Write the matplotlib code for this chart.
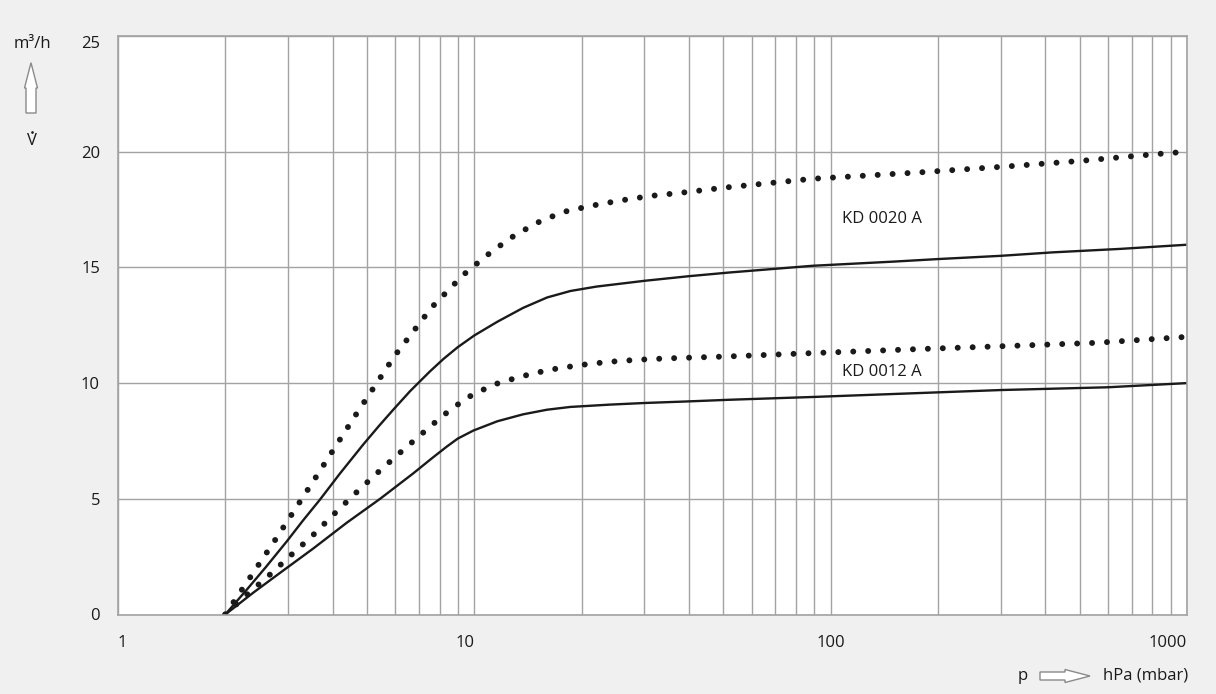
import matplotlib
matplotlib.use("Agg")
import matplotlib.pyplot as plt
from matplotlib.patches import Polygon
from matplotlib.lines import Line2D
from matplotlib.ticker import LogLocator, NullFormatter, FixedLocator

plt.rcParams['font.family'] = ['Open Sans', 'DejaVu Sans']

# ---- data ----
kd20_max_x = [2, 2.22, 2.75, 3.57, 4.59, 5.99, 7.6, 9.3, 10.8, 12.6, 14.9, 17.7, 21.4, 25.9,
              31.3, 37.8, 50.5, 89, 175, 310, 500, 810, 1000]
kd20_max_y = [0, 1.04, 3.18, 5.87, 8.5, 11.2, 13.28, 14.67, 15.5, 16.26, 16.91, 17.39, 17.67, 17.9,
              18.09, 18.22, 18.45, 18.83, 19.1, 19.36, 19.6, 19.89, 20.0]

kd20_x = [2, 2.3, 2.6, 2.98, 3.3, 3.69, 4.2, 4.88, 5.4, 5.93, 6.6, 7.5, 8.2, 8.98, 10, 11.6,
          13.7, 16, 18.6, 22, 30, 40, 52, 89, 150, 200, 300, 420, 650, 1000]
kd20_y = [0, 1.08, 2.05, 3.17, 4.05, 4.97, 6.1, 7.35, 8.15, 8.86, 9.65, 10.5, 11.05, 11.55, 12.06,
          12.65, 13.25, 13.7, 13.98, 14.17, 14.42, 14.62, 14.78, 15.07, 15.25, 15.36, 15.5, 15.65,
          15.8, 15.98]

kd12_max_x = [2, 2.3, 2.65, 3.04, 3.51, 4.02, 4.61, 5.3, 6.1, 7.05, 8.17, 9.52, 11.3, 13.55, 16.3,
              19.8, 23.9, 28.8, 34.9, 42.2, 51.1, 90, 176, 285, 555, 1000]
kd12_max_y = [0, 0.86, 1.68, 2.53, 3.4, 4.31, 5.2, 6.07, 6.91, 7.75, 8.6, 9.36, 9.93, 10.29, 10.58,
              10.78, 10.92, 11.01, 11.07, 11.11, 11.15, 11.3, 11.47, 11.58, 11.74, 12.0]

kd12_x = [2, 2.4, 2.85, 3.53, 4.38, 5.44, 6.74, 7.6, 8.36, 8.98, 9.94, 11.6, 13.7, 16, 18.6, 24,
          30, 40, 52, 89, 200, 300, 600, 1000]
kd12_y = [0, 0.95, 1.8, 2.85, 3.96, 5.0, 6.1, 6.75, 7.25, 7.6, 7.95, 8.35, 8.65, 8.85, 8.97, 9.07,
          9.14, 9.21, 9.28, 9.4, 9.6, 9.7, 9.82, 10.0]

labels = ["KD 0020 A", "KD 0012 A"]
label_pos = [(107.5, 17.1), (107.5, 10.48)]

x_ticks = [1, 10, 100, 1000]
x_ticklabels = ["1", "10", "100", "1000"]
y_ticks = [0, 5, 10, 15, 20, 25]
y_ticklabels = ["0", "5", "10", "15", "20", "25"]

# ---- figure ----
W, H = 1216, 694
BG = '#f0f0f0'
GRID = '#a3a3a3'
INK = '#1a1a1a'
FS = 12

fig = plt.figure(figsize=(W / 100, H / 100), dpi=100, facecolor=BG)
ax = fig.add_axes([118 / W, 1 - 614.5 / H, (1187 - 118) / W, (614.5 - 36) / H])
ax.set_facecolor('white')
ax.set_xscale('log')
ax.set_xlim(1, 1000)
ax.set_ylim(0, 25)

ax.xaxis.set_major_locator(FixedLocator(x_ticks))
ax.xaxis.set_minor_locator(LogLocator(base=10, subs=range(2, 10)))
ax.xaxis.set_minor_formatter(NullFormatter())
ax.set_xticklabels(x_ticklabels)
ax.set_yticks(y_ticks)
ax.set_yticklabels(y_ticklabels)
ax.tick_params(which='both', length=0, labelsize=FS, colors=INK)
ax.tick_params(axis='x', pad=15)
ax.tick_params(axis='y', pad=13)
ha_list = ['left', 'right', 'center', 'right']
for t, ha in zip(ax.get_xticklabels(), ha_list):
    t.set_ha(ha)
ax.get_yticklabels()[-1].set_va('top')

ax.grid(True, which='both', color=GRID, lw=1.0)
ax.set_axisbelow(True)
for s in ax.spines.values():
    s.set_color(GRID)
    s.set_linewidth(1.2)

dot_style = dict(color=INK, lw=4.3, linestyle=(0, (0.001, 2.5)), dash_capstyle='round')
line_style = dict(color=INK, lw=1.7, solid_capstyle='round', solid_joinstyle='round')

ax.plot(kd20_max_x, kd20_max_y, **dot_style)
ax.plot(kd20_x, kd20_y, **line_style)
ax.plot(kd12_max_x, kd12_max_y, **dot_style)
ax.plot(kd12_x, kd12_y, **line_style)

for txt, (lx, ly) in zip(labels, label_pos):
    ax.text(lx, ly, txt, fontsize=FS, color=INK, ha='left', va='center')

# ---- axis captions with hollow arrows ----
def fx(px):
    return px / W

def fy(py):
    return 1 - py / H

fig.text(fx(32), fy(44), "m³/h", fontsize=FS, color=INK, ha='center', va='center')
fig.text(fx(32), fy(141), "V", fontsize=FS, color=INK, ha='center', va='center')
fig.add_artist(Line2D([fx(32)], [fy(131.5)], marker='o', ms=1.9, color=INK, mew=0,
                      transform=fig.transFigure))

up = [(31, 62.7), (37.5, 88), (36, 88), (36, 113), (26, 113), (26, 88), (24.5, 88)]
fig.add_artist(Polygon([(fx(a), fy(b)) for a, b in up], closed=True, transform=fig.transFigure,
                       facecolor='white', edgecolor='#8a8a8a', lw=1.0))

right = [(1090, 676), (1065, 669.5), (1065, 672), (1040, 672), (1040, 680), (1065, 680), (1065, 682.5)]
fig.add_artist(Polygon([(fx(a), fy(b)) for a, b in right], closed=True, transform=fig.transFigure,
                       facecolor='white', edgecolor='#8a8a8a', lw=1.0))

fig.text(fx(1023), fy(676), "p", fontsize=FS, color=INK, ha='center', va='center')
fig.text(fx(1188), fy(676), "hPa (mbar)", fontsize=FS, color=INK, ha='right', va='center')

fig.savefig('out.png', dpi=100, facecolor=BG)
